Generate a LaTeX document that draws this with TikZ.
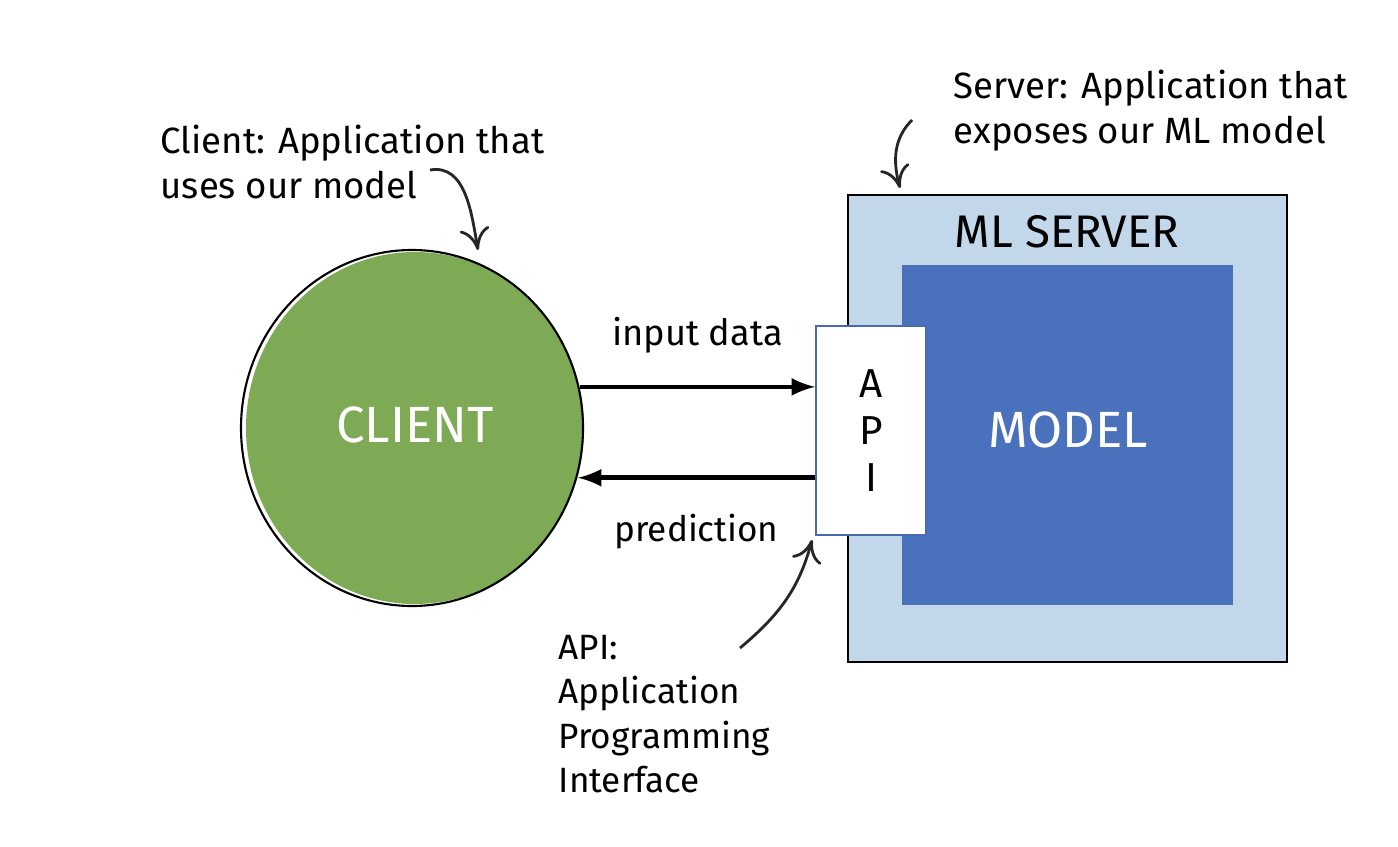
\documentclass[tikz,border=0pt]{standalone}
\usepackage{fontspec}
\setmainfont{Fira Sans}
\usepackage{xcolor}
\usepackage{tikz}
\usetikzlibrary{shapes,arrows,arrows.meta,positioning}

\definecolor{clientgreen}{HTML}{7EAA56}
\definecolor{serverblue}{HTML}{C3D7EB}
\definecolor{modelblue}{HTML}{4A71BC}
\definecolor{apiedge}{HTML}{4A6AAE}

\begin{document}
\begin{tikzpicture}[
  note/.style={align=left,font=\fontsize{10.4}{12.8}\selectfont,inner sep=0pt},
  bigtext/.style={text=white,font=\fontsize{14.5}{16}\selectfont},
  hand/.style={-{To[length=2.2mm,width=3mm]},line width=0.8pt,black!85}
]
\useasboundingbox (0,0) rectangle (13.98,-8.46);

% client side
\node[ellipse,fill=clientgreen,minimum width=3.38cm,minimum height=3.52cm,inner sep=0pt] (client) at (4.15,-4.28) {};
\draw[line width=0.6pt] (4.12,-4.28) ellipse (1.71cm and 1.78cm);
\node[bigtext] (clienttext) at (4.15,-4.25) {CLIENT};

% server side
\node[rectangle,draw,fill=serverblue,line width=0.7pt,minimum width=4.39cm,minimum height=4.67cm] (server) at (10.675,-4.285) {};
\node[rectangle,fill=modelblue,minimum width=3.31cm,minimum height=3.40cm] (model) at (10.675,-4.35) {};
\node[font=\fontsize{13}{15}\selectfont] (servertitle) at (10.67,-2.32) {ML SERVER};
\node[bigtext] (modeltext) at (10.68,-4.30) {MODEL};
\node[rectangle,draw=apiedge,fill=white,line width=0.5pt,minimum width=1.1cm,minimum height=2.09cm,
      align=center,font=\fontsize{11.5}{13.4}\selectfont] (api) at (8.71,-4.305) {A\\P\\I};

% requests
\draw[-latex,line width=1.3pt] (client.14) -- (client.14 -| api.west)
      node[midway,above=0.2cm,font=\fontsize{10.3}{12}\selectfont] (inputlbl) {input data};
\draw[-latex,line width=1.3pt] (client.-17 -| api.west) -- (client.-17)
      node[midway,below=0.22cm,font=\fontsize{10}{12}\selectfont] (predlbl) {prediction};

% annotations
\node[note,anchor=west] (clientnote) at (1.60,-1.62) {Client: Application that\\uses our model};
\node[note,anchor=west] (servernote) at (9.53,-1.11) {Server: Application that\\exposes our ML model};
\node[note,anchor=west,font=\fontsize{10}{12.6}\selectfont] (apinote) at (5.58,-7.14) {API:\\Application\\Programming\\Interface};

\coordinate (clientfrom) at (4.30,-1.70);
\coordinate (clientto) at (4.78,-2.50);
\coordinate (serverfrom) at (9.12,-1.20);
\coordinate (serverto) at (9.00,-1.88);
\coordinate (apifrom) at (7.40,-6.48);
\coordinate (apito) at (8.12,-5.40);
\draw[hand] (clientfrom) to[out=10,in=100] (clientto);
\draw[hand] (serverfrom) to[out=225,in=105] (serverto);
\draw[hand] (apifrom) to[out=40,in=-105] (apito);
\end{tikzpicture}
\end{document}
